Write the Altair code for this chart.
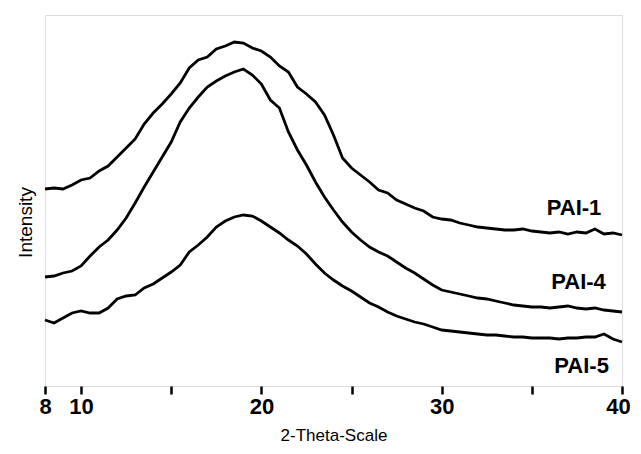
import altair as alt
import pandas as pd

# 2-theta positions (degrees), 0.5 deg steps from 8 to 40
two_theta = [8.0 + 0.5 * i for i in range(65)]

pai1 = [197, 198, 197, 201, 206, 208, 215, 220, 229, 238, 247, 262, 273, 282, 292, 303,
        318, 326, 329, 337, 340, 344, 343, 338, 335, 329, 320, 314, 299, 292, 284, 271,
        251, 228, 218, 211, 204, 196, 193, 186, 182, 178, 175, 169, 167, 166, 163, 161,
        159, 158, 157, 156, 156, 157, 155, 154, 153, 154, 152, 154, 153, 157, 152, 153, 151]
pai4 = [109, 110, 113, 115, 120, 130, 139, 146, 156, 168, 183, 199, 214, 229, 244, 264,
        278, 289, 299, 305, 310, 314, 317, 311, 302, 286, 278, 254, 236, 221, 204, 189,
        176, 164, 154, 146, 139, 134, 130, 124, 118, 113, 107, 101, 96, 94, 92, 90,
        88, 87, 85, 83, 81, 80, 79, 79, 78, 79, 80, 78, 77, 78, 76, 75, 74]
pai5 = [66, 63, 68, 73, 75, 73, 73, 78, 87, 90, 91, 98, 102, 108, 114, 121,
        134, 141, 149, 159, 165, 169, 171, 170, 165, 159, 153, 146, 140, 132, 122, 113,
        106, 100, 95, 89, 83, 79, 74, 70, 67, 64, 62, 59, 56, 55, 54, 53,
        52, 51, 51, 50, 49, 49, 48, 48, 48, 47, 48, 48, 49, 49, 52, 47, 44]

series_names = ["PAI-1", "PAI-4", "PAI-5"]
label_x = [37.34, 37.59, 37.76]
label_y = [178, 104, 20]

x_ticks = [8, 10, 15, 20, 25, 30, 35, 40]

rows = []
for name, vals in zip(series_names, [pai1, pai4, pai5]):
    for t, v in zip(two_theta, vals):
        rows.append({"theta": t, "intensity": v, "series": name})
df = pd.DataFrame(rows)
labels = pd.DataFrame({"x": label_x, "y": label_y, "text": series_names})

FONT = "Liberation Sans"

xscale = alt.Scale(domain=[8, 40], nice=False)
yscale = alt.Scale(domain=[0, 371], nice=False, zero=False)

lines = alt.Chart(df).mark_line(color="black", strokeWidth=2.8).encode(
    x=alt.X("theta:Q", scale=xscale,
            axis=alt.Axis(values=x_ticks, title="2-Theta-Scale",
                          labelExpr="(datum.value==15||datum.value==25||datum.value==35) ? '' : datum.label",
                          domain=False, ticks=True, tickSize=8, tickWidth=2.5, tickColor="black",
                          labelFont=FONT, labelFontSize=22, labelFontWeight="bold", labelColor="black",
                          labelPadding=2, labelFlush=False, grid=False,
                          labelOffset=alt.condition("datum.value == 40", alt.value(-4), alt.value(0)),
                          titleFont=FONT, titleFontSize=17, titleFontWeight="normal", titleColor="black",
                          titleBaseline="bottom", titleY=58)),
    y=alt.Y("intensity:Q", scale=yscale,
            axis=alt.Axis(title="Intensity", labels=False, ticks=False, domain=False, grid=False,
                          titleFont=FONT, titleFontSize=19, titleFontWeight="normal", titleColor="black",
                          titleX=-20, titleY=207, titleBaseline="middle", titleAlign="center")),
    detail="series:N",
)

text = alt.Chart(labels).mark_text(font=FONT, fontSize=22, fontWeight="bold", color="black",
                                   align="center", baseline="middle").encode(
    x=alt.X("x:Q", scale=xscale),
    y=alt.Y("y:Q", scale=yscale),
    text="text:N",
)

chart = (lines + text).properties(
    width=577, height=371,
    autosize=alt.AutoSizeParams(type="none"),
    padding={"left": 37, "top": 7, "right": 11, "bottom": 60},
).configure_view(stroke="black", strokeWidth=2.5).configure(background="white")

chart.save("out.html", embed_options={"renderer": "svg", "actions": False})
